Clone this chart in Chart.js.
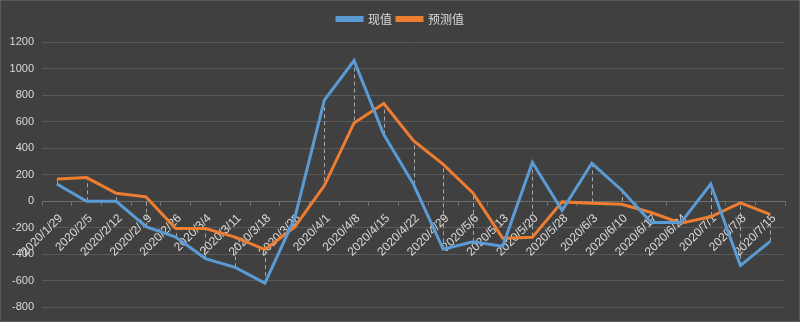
<!DOCTYPE html>
<html>
<head>
<meta charset="utf-8">
<script src="https://cdn.jsdelivr.net/npm/chart.js@4.4.0/dist/chart.umd.min.js"></script>
<style>
	html, body { margin: 0; padding: 0; background: #404040; }
	#wrap { width: 800px; height: 322px; }
</style>
</head>
<body>
<div id="wrap"><canvas id="myChart"></canvas></div>
<script>
var dias = ['2020/1/29','2020/2/5','2020/2/12','2020/2/19','2020/2/26','2020/3/4','2020/3/11','2020/3/18','2020/3/25','2020/4/1','2020/4/8','2020/4/15','2020/4/22','2020/4/29','2020/5/6','2020/5/13','2020/5/20','2020/5/28','2020/6/3','2020/6/10','2020/6/17','2020/6/24','2020/7/1','2020/7/8','2020/7/15'];
var xianzhi = [130, 0, 0, -192, -270, -432, -498, -617, -130, 762, 1060, 502, 128, -362, -306, -339, 292, -70, 286, 85, -160, -161, 130, -485, -303];
var yuce = [167, 178, 60, 33, -205, -205, -270, -364, -195, 118, 590, 737, 457, 278, 62, -278, -271, -5, -15, -23, -85, -165, -117, -12, -99];
var yTicks = [-800, -600, -400, -200, 0, 200, 400, 600, 800, 1000, 1200];

// fundo e borda
var fundo = {
	id: 'fundo',
	beforeDraw: function(chart) {
		var ctx = chart.ctx;
		ctx.save();
		ctx.fillStyle = '#404040';
		ctx.fillRect(0, 0, chart.width, chart.height);
		ctx.strokeStyle = '#5a5a5a';
		ctx.lineWidth = 1;
		ctx.strokeRect(0.5, 0.5, chart.width - 1, chart.height - 1);
		ctx.restore();
	}
};

// ajuste da legenda: mais espaco embaixo e um pouco para a direita
var ajusteLegenda = {
	id: 'ajusteLegenda',
	beforeLayout: function(chart) {
		var lg = chart.legend;
		if (lg && !lg._ajustado) {
			var fit = lg.fit;
			lg.fit = function() {
				fit.call(this);
				this.height += 7;
			};
			lg._ajustado = true;
		}
	},
	afterLayout: function(chart) {
		if (chart.legend) chart.legend.left = 16;
	}
};

// linhas tracejadas entre as duas series
var linhasAltaBaixa = {
	id: 'linhasAltaBaixa',
	beforeDatasetsDraw: function(chart) {
		var a = chart.getDatasetMeta(0).data;
		var b = chart.getDatasetMeta(1).data;
		var ctx = chart.ctx;
		ctx.save();
		ctx.strokeStyle = '#a6a6a6';
		ctx.lineWidth = 1;
		ctx.setLineDash([4, 3]);
		for (var i = 0; i < a.length; i++) {
			var x = Math.round(a[i].x) + 0.5;
			ctx.beginPath();
			ctx.moveTo(x, a[i].y);
			ctx.lineTo(x, b[i].y);
			ctx.stroke();
		}
		ctx.restore();
	}
};

var ctx = document.getElementById('myChart');

var data = {
	labels : dias,
	datasets : [
		{
			label : '现值',
			data : xianzhi,
			borderColor : '#5b9bd5',
			backgroundColor : '#5b9bd5',
			borderWidth : 3,
			fill : false,
			tension : 0,
			pointRadius : 0
		},
		{
			label : '预测值',
			data : yuce,
			borderColor : '#ed7d31',
			backgroundColor : '#ed7d31',
			borderWidth : 3,
			fill : false,
			tension : 0,
			pointRadius : 0
		}
	]
};

var myChart = new Chart(ctx, {
	type : 'line',
	data : data,
	plugins : [fundo, ajusteLegenda, linhasAltaBaixa],
	options : {
		responsive : true,
		maintainAspectRatio : false,
		animation : false,
		layout : { padding : { top : 8, right : 15, bottom : 9, left : 0 } },
		plugins : {
			legend : {
				position : 'top',
				labels : {
					color : '#d9d9d9',
					font : { family : '"Noto Sans CJK SC", sans-serif', size : 12 },
					boxWidth : 25,
					boxHeight : 3,
					padding : 5
				}
			},
			tooltip : { enabled : false }
		},
		scales : {
			x : {
				position : { y : 0 },
				offset : true,
				z : 1,
				grid : {
					offset : true,
					drawOnChartArea : false,
					drawTicks : true,
					tickLength : 4,
					color : '#6e6e6e'
				},
				border : { display : true, color : '#6e6e6e' },
				ticks : {
					color : '#d9d9d9',
					font : { family : '"Liberation Sans", sans-serif', size : 12 },
					maxRotation : 45,
					minRotation : 45,
					autoSkip : false,
					padding : 6,
					labelOffset : 4
				}
			},
			y : {
				min : -800,
				max : 1200,
				afterFit : function(scale) { scale.width = 42; },
				afterBuildTicks : function(scale) {
					scale.ticks = yTicks.map(function(v) { return { value : v }; });
				},
				grid : { color : '#595959', drawTicks : false },
				border : { display : false },
				ticks : {
					color : '#d9d9d9',
					font : { family : '"Liberation Sans", sans-serif', size : 11 },
					padding : 8,
					callback : function(v) { return String(v); }
				}
			}
		}
	}
});
</script>
</body>
</html>
